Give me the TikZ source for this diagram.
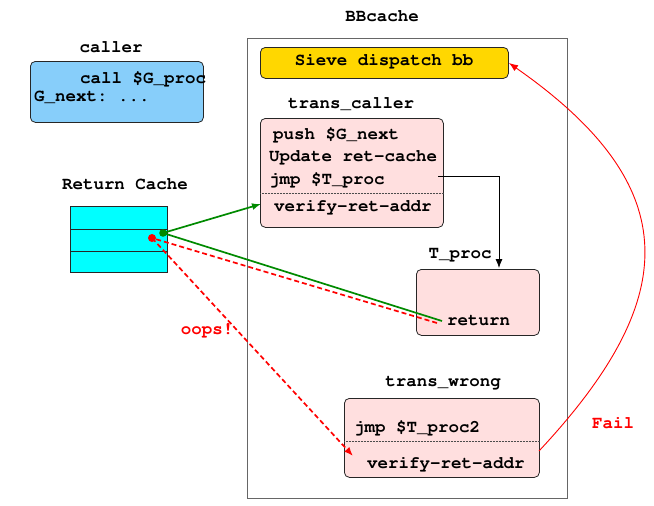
\documentclass[tikz,border=0pt]{standalone}
\usepackage[T1]{fontenc}
\usepackage{courier}
\usetikzlibrary{positioning, arrows.meta}
\frenchspacing
\definecolor{callerblue}{HTML}{87CEFA}
\definecolor{sievegold}{HTML}{FFD700}
\definecolor{transpink}{HTML}{FFDFDF}
\definecolor{cachecyan}{HTML}{00FFFF}
\definecolor{okgreen}{HTML}{008A00}
\tikzset{
  code/.style={font=\ttfamily\bfseries\fontsize{17.5}{21}\selectfont, inner sep=0pt},
  block/.style={rectangle, rounded corners=5pt, draw=black!85, line width=0.8pt, anchor=north west},
  frame/.style={rectangle, draw=black!60, line width=1pt, anchor=north west},
  arrow/.style={-{Latex[length=9pt, width=7pt]}},
  sep/.style={densely dotted, draw=black!70, line width=0.5pt},
  oopsline/.style={red, dash pattern=on 5pt off 3pt, line width=1.7pt},
  okline/.style={okgreen, line width=1.7pt},
}

\begin{document}
\begin{tikzpicture}[x=1pt, y=-1pt]
  \useasboundingbox (0,0) rectangle (654,506);

  % BBcache frame
  \node[code] (bbtitle) at (382,16) {BBcache};
  \node[frame, minimum width=320, minimum height=460] (bbcache) at (247,38) {};

  \node[block, fill=sievegold, minimum width=248, minimum height=31] (sieve) at (260,47) {};
  \node[code] (sievetext) at (384,61) {Sieve dispatch bb};

  % trans_caller
  \node[code] (tctitle) at (351,104) {trans\_caller};
  \node[block, fill=transpink, minimum width=183, minimum height=109] (tc) at (260,118) {};
  \node[code, anchor=west] (tcpush) at (273,135) {push \$G\_next};
  \node[code, anchor=west] (tcupd) at (269,157) {Update ret-cache};
  \node[code, anchor=west] (tcjmp) at (269,180) {jmp \$T\_proc};
  \node[code, anchor=west] (tcverify) at (274,207) {verify-ret-addr};
  \draw[sep] (tc.west |- 0,193) -- (tc.east |- 0,193);

  % caller
  \node[code] (callertitle) at (111,47) {caller};
  \node[block, fill=callerblue, minimum width=173, minimum height=61] (caller) at (30,61) {};
  \node[code, anchor=west] (callline) at (80,79) {call \$G\_proc};
  \node[code, anchor=west] (nextline) at (34,97) {G\_next: ...};

  % return cache
  \node[code] (rctitle) at (125,184) {Return Cache};
  \node[frame, draw=black!85, fill=cachecyan, minimum width=97, minimum height=66] (cache) at (70,206) {};
  \draw[line width=1pt, black!85] (cache.west |- 0,229) -- (cache.east |- 0,229);
  \draw[line width=1pt, black!85] (cache.west |- 0,251) -- (cache.east |- 0,251);

  % T_proc
  \node[code] (tptitle) at (460,255) {T\_proc};
  \node[block, fill=transpink, minimum width=123, minimum height=66] (tproc) at (416,269) {};
  \node[code, anchor=west] (ret) at (447,321) {return};

  % trans_wrong
  \node[code] (twtitle) at (443,383) {trans\_wrong};
  \node[block, fill=transpink, minimum width=195, minimum height=79] (tw) at (344,398) {};
  \node[code, anchor=west] (twjmp) at (354,428) {jmp \$T\_proc2};
  \node[code, anchor=west] (twverify) at (367,464) {verify-ret-addr};
  \draw[sep] (tw.west |- 0,441) -- (tw.east |- 0,441);

  \node[code, text=red] (oops) at (207,331) {oops!};
  \node[code, text=red] (fail) at (613,423) {Fail};

  % connectors
  \coordinate (gdot) at (163,233);
  \coordinate (rdot) at (152,238);
  \coordinate (tcin) at (261,204);
  \coordinate (retin) at (442,321);
  \coordinate (retout) at (437,323);
  \coordinate (twin) at (353,456);
  \coordinate (jmpout) at (438,176);
  \coordinate (bend) at (499,176);
  \coordinate (tpin) at (499,268);
  \coordinate (failout) at (539,451);
  \coordinate (sievein) at (509,63);

  \draw[arrow, line width=0.8pt] (jmpout) -- (bend) -- (tpin);

  \draw[oopsline] (retout) -- (rdot);
  \draw[oopsline, arrow] (rdot) -- (twin);
  \fill[red] (rdot) circle (4pt);

  \draw[okline, arrow] (gdot) -- (tcin);
  \draw[okline] (gdot) -- (retin);
  \fill[okgreen] (gdot) circle (3.8pt);

  \draw[red, line width=0.9pt, arrow] (failout) .. controls (680,300) and (688,188) .. (sievein);
\end{tikzpicture}
\end{document}
